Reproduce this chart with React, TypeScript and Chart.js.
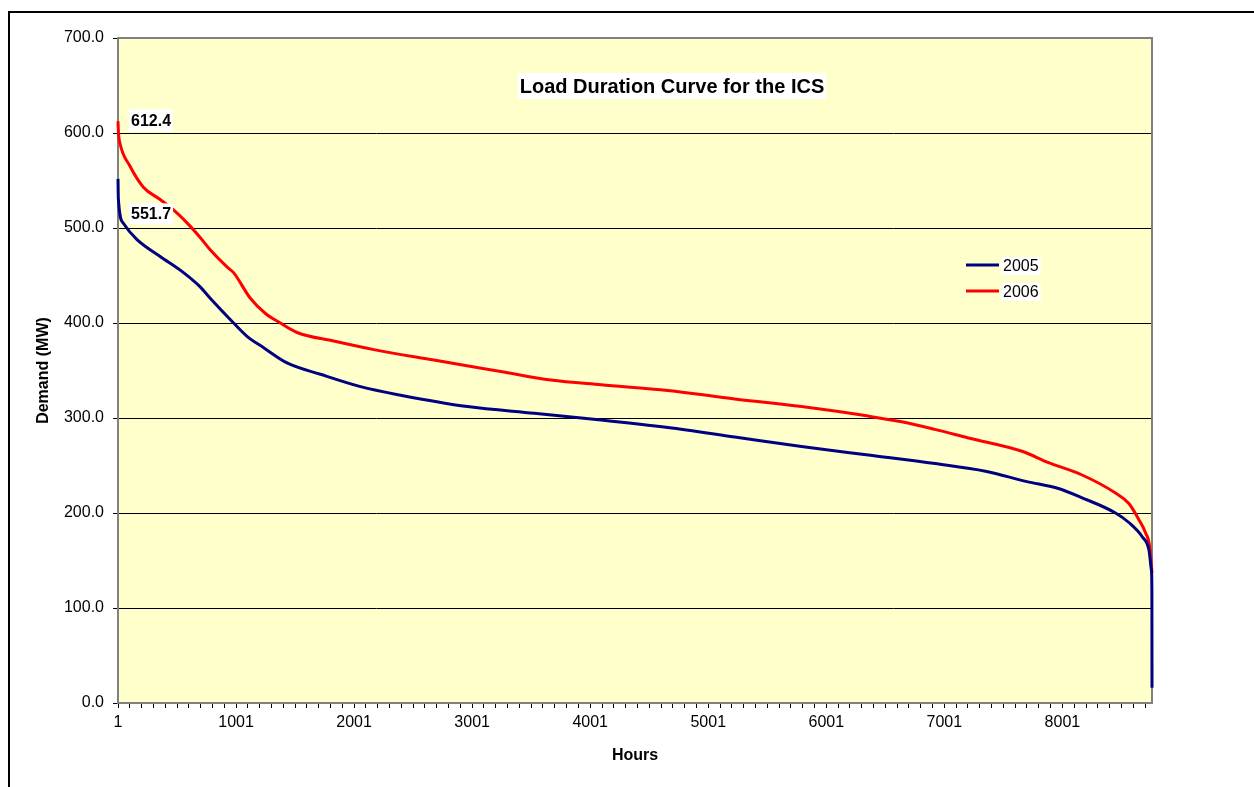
import React, { useEffect, useRef } from "react";
import { Chart, registerables } from "chart.js";

Chart.register(...registerables);

// ---- Data ----
const seriesNames = ["2005", "2006"];

const hours2005 = [
  1, 4, 46, 160, 358, 556, 697, 782, 980, 1094, 1235, 1433, 1716, 2055, 2395,
  2961, 3527, 4093, 4659, 5225, 5791, 6357, 6922, 7350, 7700, 7960, 8168, 8451,
  8564, 8677, 8734, 8755, 8759, 8760,
];
const demand2005 = [
  551.7, 531, 505, 488, 470, 453, 438, 426, 400, 386, 374, 358, 346, 333, 324,
  312, 305, 298, 290, 280, 270, 261, 252, 244, 233, 226, 216, 200,
  190, 175, 161, 140, 120, 16,
];

const hours2006 = [
  1, 5, 18, 103, 216, 358, 499, 612, 697, 782, 924, 980, 1122, 1250, 1376,
  1518, 1828, 2168, 2677, 3243, 3668, 4093, 4659, 5225, 5791, 6357, 6640, 6922,
  7205, 7658, 7884, 8168, 8451, 8564, 8649, 8706, 8740, 8760,
];
const demand2006 = [
  612.4, 600, 589, 565, 543, 530, 516, 502, 490, 477, 459, 453, 426, 410, 400,
  390, 381, 372, 361, 349, 340, 335, 329, 320, 312, 302, 296, 288,
  279, 265, 253, 240, 221, 210, 193, 179, 165, 137,
];

const xTickLabels = ["1", "1001", "2001", "3001", "4001", "5001", "6001", "7001", "8001"];
const xMinorStep = 100;
const xMin = 1;
const xMax = 8760;
const yMin = 0;
const yMax = 700;
const yStep = 100;

const chartTitle = "Load Duration Curve for the ICS";
const xAxisTitle = "Hours";
const yAxisTitle = "Demand (MW)";

const colors = ["#000080", "#FF0000"];
const FONT = '"Liberation Sans", Arial, sans-serif';

function toPoints(xs: number[], ys: number[]) {
  return xs.map((x, i) => ({ x, y: ys[i] }));
}

function boxedText(
  ctx: CanvasRenderingContext2D,
  text: string,
  font: string,
  x: number,
  y: number,
  align: "left" | "center",
  boxH: number
) {
  ctx.save();
  ctx.font = font;
  const w = ctx.measureText(text).width;
  const left = align === "center" ? x - w / 2 : x;
  ctx.fillStyle = "#FFFFFF";
  ctx.fillRect(left - 2, y - boxH / 2, w + 4, boxH);
  ctx.fillStyle = "#000000";
  ctx.textBaseline = "middle";
  ctx.textAlign = "left";
  ctx.fillText(text, left, y + 1);
  ctx.restore();
}

const overlayPlugin = {
  id: "overlay",
  beforeDraw(chart: any) {
    const { ctx, chartArea: a } = chart;
    ctx.save();
    ctx.fillStyle = "#FFFFCC";
    ctx.fillRect(a.left, a.top, a.right - a.left, a.bottom - a.top);
    ctx.restore();
  },
  beforeDatasetsDraw(chart: any) {
    const { ctx, chartArea: a } = chart;
    // plot frame (drawn under the curves)
    ctx.save();
    ctx.strokeStyle = "#808080";
    ctx.lineWidth = 2;
    ctx.strokeRect(a.left, a.top, a.right - a.left, a.bottom - a.top);
    ctx.restore();
  },
  afterDraw(chart: any) {
    const { ctx, chartArea: a, scales } = chart;

    // chart title inside plot area
    boxedText(ctx, chartTitle, `bold 20px ${FONT}`, a.left + 554, a.top + 48, "center", 26);

    // peak data labels
    const xs = scales.x;
    const ys = scales.y;
    const p2006x = xs.getPixelForValue(hours2006[0]);
    const p2006y = ys.getPixelForValue(demand2006[0]);
    boxedText(ctx, demand2006[0].toFixed(1), `bold 16px ${FONT}`, p2006x + 13, p2006y - 1, "left", 22);
    const p2005x = xs.getPixelForValue(hours2005[0]);
    const p2005y = ys.getPixelForValue(demand2005[0]);
    boxedText(ctx, demand2005[0].toFixed(1), `bold 16px ${FONT}`, p2005x + 13, p2005y + 35, "left", 21);

    // legend inside the plot area
    seriesNames.forEach((name, i) => {
      const ly = a.top + 227 + i * 26;
      const lx = a.right - 186;
      ctx.save();
      ctx.strokeStyle = colors[i];
      ctx.lineWidth = 3;
      ctx.beginPath();
      ctx.moveTo(lx, ly);
      ctx.lineTo(lx + 33, ly);
      ctx.stroke();
      ctx.restore();
      boxedText(ctx, name, `16px ${FONT}`, lx + 37, ly + 1, "left", 18);
    });
  },
};

export default function App() {
  const canvasRef = useRef<HTMLCanvasElement | null>(null);

  useEffect(() => {
    const canvas = canvasRef.current;
    if (!canvas) return;
    const minorTicks: number[] = [];
    for (let v = xMin; v <= xMax; v += xMinorStep) minorTicks.push(v);

    const chart = new Chart(canvas, {
      type: "line",
      data: {
        datasets: [
          {
            label: seriesNames[0],
            data: toPoints(hours2005, demand2005),
            borderColor: colors[0],
            backgroundColor: colors[0],
            borderWidth: 3,
            pointRadius: 0,
            cubicInterpolationMode: "monotone",
            fill: false,
            clip: 3,
          },
          {
            label: seriesNames[1],
            data: toPoints(hours2006, demand2006),
            borderColor: colors[1],
            backgroundColor: colors[1],
            borderWidth: 3,
            pointRadius: 0,
            cubicInterpolationMode: "monotone",
            fill: false,
            clip: 3,
          },
        ],
      },
      options: {
        animation: false,
        responsive: false,
        devicePixelRatio: 1,
        layout: { padding: { left: 0, top: 38, right: 102, bottom: 0 } },
        plugins: {
          legend: { display: false },
          title: { display: false },
          tooltip: { enabled: false },
        },
        scales: {
          x: {
            type: "linear",
            min: xMin,
            max: xMax,
            afterBuildTicks: (scale: any) => {
              scale.ticks = minorTicks.map((v) => ({ value: v }));
            },
            afterFit: (scale: any) => {
              scale.height = 84;
            },
            ticks: {
              autoSkip: false,
              maxRotation: 0,
              minRotation: 0,
              padding: 5,
              color: "#000000",
              font: { family: FONT, size: 16 },
              callback: (v: any) => {
                const s = String(v);
                return xTickLabels.includes(s) ? s : "";
              },
            },
            grid: {
              display: true,
              drawOnChartArea: false,
              drawTicks: true,
              tickLength: 5,
              color: "#000000",
              lineWidth: 1,
            },
            border: { display: false },
            title: {
              display: true,
              text: xAxisTitle,
              color: "#000000",
              font: { family: FONT, size: 16, weight: "bold" },
              padding: { top: 0, bottom: 22 },
            },
          },
          y: {
            type: "linear",
            min: yMin,
            max: yMax,
            afterFit: (scale: any) => {
              scale.width = 118;
            },
            ticks: {
              stepSize: yStep,
              padding: 9,
              color: "#000000",
              font: { family: FONT, size: 16 },
              callback: (v: any) => Number(v).toFixed(1),
            },
            grid: {
              display: true,
              drawOnChartArea: true,
              drawTicks: true,
              tickLength: 5,
              color: "#000000",
              lineWidth: 1,
            },
            border: { display: false },
            title: {
              display: true,
              text: yAxisTitle,
              color: "#000000",
              font: { family: FONT, size: 16, weight: "bold" },
              padding: { top: 34, bottom: 0 },
            },
          },
        },
      },
      plugins: [overlayPlugin],
    } as any);

    return () => {
      chart.destroy();
    };
  }, []);

  return (
    <div
      style={{
        position: "fixed",
        left: 0,
        top: 0,
        width: "100vw",
        height: "100vh",
        overflow: "hidden",
        background: "#FFFFFF",
      }}
    >
      <div
        style={{
          position: "absolute",
          left: 8,
          top: 11,
          width: 1400,
          height: 900,
          border: "2px solid #000000",
        }}
      />
      <canvas
        ref={canvasRef}
        width={1254}
        height={787}
        style={{ position: "absolute", left: 0, top: 0, width: 1254, height: 787 }}
      />
    </div>
  );
}
